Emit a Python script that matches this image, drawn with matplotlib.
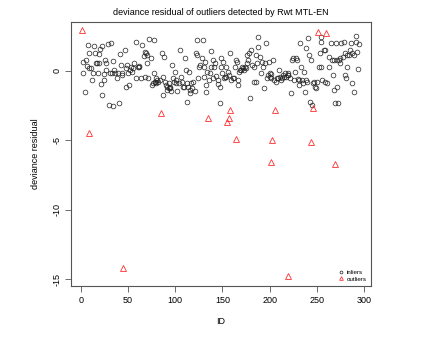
import numpy as np
import matplotlib.pyplot as plt

plt.rcParams['font.family'] = ['Liberation Sans', 'DejaVu Sans']
plt.rcParams['axes.unicode_minus'] = False

# inliers: (ID, deviance residual)
inlier_id = [2, 2, 4, 5, 7, 8, 6, 9, 11, 12, 13, 14, 15, 16, 17, 18, 19, 19, 20, 21,
             22, 22, 24, 24, 25, 26, 27, 29, 30, 31, 32, 33, 34, 34, 35, 36, 38, 39, 40, 41,
             42, 43, 44, 47, 48, 48, 49, 50, 51, 52, 53, 54, 55, 56, 58, 58, 60, 61, 62, 64,
             65, 67, 68, 68, 69, 70, 70, 71, 72, 74, 75, 76, 77, 77, 78, 79, 80, 80, 81, 82,
             84, 86, 87, 87, 88, 89, 90, 91, 91, 93, 93, 94, 94, 95, 96, 98, 99, 100, 101, 101,
             102, 104, 105, 106, 107, 108, 109, 110, 111, 112, 112, 114, 115, 116, 116, 117, 118, 119, 121, 122,
             123, 123, 124, 125, 126, 128, 129, 130, 130, 132, 133, 133, 134, 136, 137, 138, 138, 140, 140, 141,
             142, 143, 145, 145, 147, 147, 148, 149, 150, 151, 152, 153, 154, 154, 156, 157, 158, 159, 161, 162,
             163, 164, 165, 166, 167, 168, 169, 170, 171, 172, 173, 174, 175, 176, 176, 177, 178, 179, 180, 181,
             183, 184, 186, 186, 187, 188, 188, 190, 191, 192, 193, 194, 195, 196, 197, 198, 199, 200, 200, 201,
             202, 204, 205, 207, 208, 209, 210, 211, 212, 213, 214, 215, 216, 217, 219, 220, 220, 222, 223, 224,
             225, 226, 227, 228, 229, 230, 231, 231, 232, 233, 234, 235, 236, 238, 239, 239, 240, 241, 242, 243,
             244, 245, 246, 247, 248, 249, 250, 252, 253, 254, 255, 255, 256, 258, 259, 259, 261, 263, 263, 265,
             266, 267, 268, 268, 269, 270, 271, 272, 273, 274, 275, 275, 276, 278, 279, 280, 280, 281, 282, 282,
             284, 285, 286, 287, 287, 289, 290, 292, 292, 293, 294, 295]
inlier_res = [0.60, -0.14, -1.53, 0.75, 1.85, 1.25, 0.36, 0.22, 0.17, -0.69, -0.14, 1.78, 1.25, 0.58, 0.58, -0.19, 1.18, 0.53, 1.54, -0.98,
              -1.77, 1.80, -0.67, -0.21, 0.77, 0.53, 0.05, 1.92, -2.45, -0.14, 1.97, -0.19, 0.72, -2.54, 0.05, -0.19, -0.55, -0.19, -2.35, 1.20,
              0.41, -0.31, -0.19, 1.49, 0.22, -1.15, 0.41, -0.19, -1.03, 0.05, 0.29, -0.07, 0.17, 0.58, 2.09, -0.55, 0.29, 0.34, 0.29, -0.55,
              1.85, 1.06, 1.37, -0.43, 1.25, 0.53, 1.13, -0.55, 2.26, 0.89, -1.03, -0.86, -0.19, 2.21, -0.79, -0.79, -0.55, -0.91, -0.67, -0.79,
              -0.67, 1.25, -0.43, -1.75, 0.96, -0.79, -1.03, -1.15, -1.39, -1.27, -0.91, -1.22, -1.15, -1.46, 0.41, -0.55, -0.79, -0.07, -0.91, -0.67,
              -1.46, -0.86, 1.49, -0.43, -0.79, -1.15, -1.15, 0.89, 0.05, -0.91, -2.28, -1.15, -0.07, -1.39, -1.63, -0.91, -1.27, -0.79, -1.44, 1.25,
              1.13, 2.21, -0.55, 0.29, 0.41, 0.89, 2.21, -0.43, 0.29, 0.65, -1.53, -1.05, -0.07, -0.67, -0.19, 0.29, 1.42, -0.55, 0.77, 0.29,
              0.53, -0.38, -0.96, -0.67, -2.30, -1.15, 0.89, 0.29, -0.19, 0.65, -0.55, -0.43, -0.43, 0.29, -0.07, -0.31, 1.25, -0.67, -0.55, -0.55,
              0.29, 0.77, 0.65, -0.67, -1.03, -0.07, 0.05, 0.05, 0.29, 0.17, 0.05, 0.29, 0.17, 0.53, 1.13, 0.77, 1.25, -1.99, 1.49, 0.41,
              -0.79, 0.29, -0.79, 1.13, 0.53, 2.40, 1.68, 1.01, -0.19, 0.65, 0.29, -1.27, 0.53, 1.97, -0.55, -0.31, 0.65, -0.43, -0.19, -0.24,
              -0.55, 0.77, -0.67, -0.79, -0.55, -0.55, 0.05, -0.43, -0.67, -0.55, -0.31, -0.43, -0.19, -0.43, -0.14, -0.31, -0.31, -0.55, -1.58, 0.77,
              0.89, -0.67, -0.07, 0.89, 0.77, -0.62, -0.67, -1.03, 2.02, 0.29, -0.67, -0.91, -0.07, -1.51, -0.67, 1.61, -0.79, 2.33, 1.13, -2.23,
              0.77, -2.47, -0.91, -0.79, -1.15, -1.27, -0.79, 0.29, 1.25, 2.45, 2.09, 0.29, -0.67, 1.49, 1.49, -0.79, -0.91, 0.29, 0.96, 2.02,
              0.77, -0.31, -1.39, 0.77, -2.35, 1.97, -1.15, 0.77, -2.35, 0.77, 0.53, 0.89, 1.97, 1.01, 2.09, 1.25, -0.31, -0.55, 0.29, 1.13,
              1.13, 1.49, 1.97, -0.91, 1.25, -1.53, 1.13, 2.09, 2.50, 1.32, 0.10, 1.92]

# outliers
outlier_id = [1, 251, 260, 9, 85, 135, 158, 157, 155, 206, 246, 164, 203, 244, 202, 269, 45, 220]
outlier_res = [2.93, 2.80, 2.69, -4.46, -3.02, -3.38, -2.80, -3.43, -3.69, -2.85, -2.71, -4.91, -5.00, -5.13, -6.59, -6.69, -14.2, -14.8]

fig = plt.figure(figsize=(4.31, 3.41), dpi=100)
ax = fig.add_axes([0.1647, 0.1613, 0.696, 0.774])

ax.plot(inlier_id, inlier_res, linestyle='none', marker='o', markersize=3.4,
        markerfacecolor='none', markeredgecolor='#222222', markeredgewidth=0.5, label='inliers')
ax.plot(outlier_id, outlier_res, linestyle='none', marker='^', markersize=4.4,
        markerfacecolor='none', markeredgecolor='#ff3030', markeredgewidth=0.6, label='outliers')

ax.set_xlim(-10.6, 307.5)
ax.set_ylim(-15.5, 3.5)
ax.set_xticks(np.arange(0, 301, 50))
ax.set_yticks([-15, -10, -5, 0])
ax.tick_params(direction='out', length=4, width=0.6, color='#555555', labelsize=6.5, pad=3)
for lab in ax.get_yticklabels():
    lab.set_rotation(90)
    lab.set_va('center')
for s in ax.spines.values():
    s.set_color('#555555')
    s.set_linewidth(0.8)

ax.set_title('deviance residual of outliers detected by Rwt MTL-EN', fontsize=6.5, pad=5)
ax.set_xlabel('ID', fontsize=6.5, labelpad=9)
ax.set_ylabel('deviance residual', fontsize=6.5, labelpad=9)

ax.legend(loc='lower right', fontsize=4.5, frameon=False, handlelength=1.0,
          handletextpad=0.4, labelspacing=0.2, markerscale=0.6, borderaxespad=0.3)

fig.savefig('out.png', dpi=100)
